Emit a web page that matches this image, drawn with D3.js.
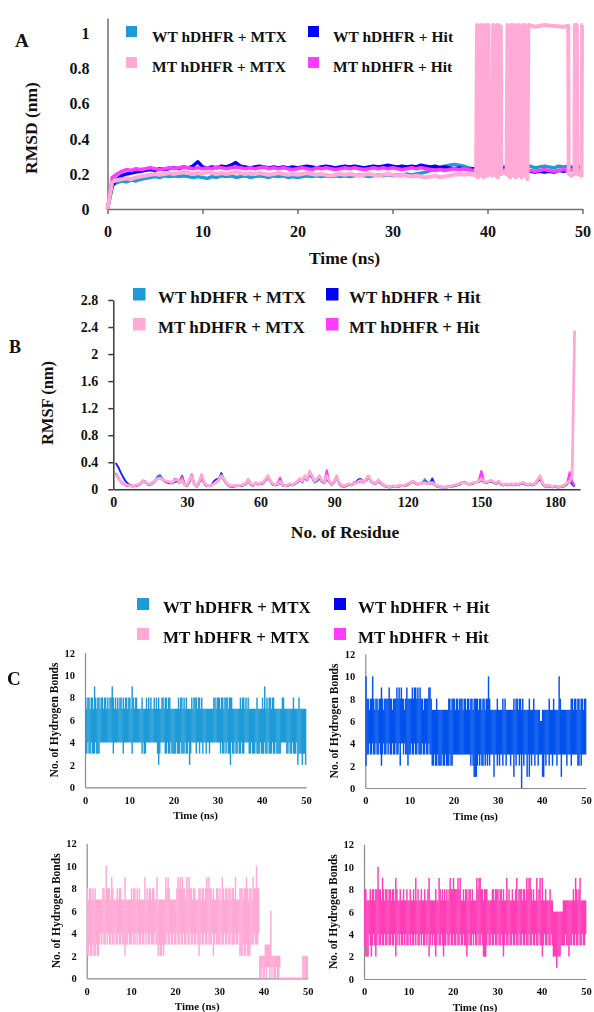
<!DOCTYPE html>
<html>
<head>
<meta charset="utf-8">
<script src="https://d3js.org/d3.v7.min.js"></script>
<style>
  body { margin: 0; background: #fff; }
  svg text { font-family: "Liberation Serif", "Times New Roman", serif; font-weight: bold; }
</style>
</head>
<body>
<svg id="fig" width="594" height="1012" xmlns="http://www.w3.org/2000/svg"></svg>
<script>
// ---------- series definitions ----------
const seriesNames = ["WT hDHFR + MTX", "WT hDHFR + Hit", "MT hDHFR + MTX", "MT hDHFR + Hit"];
const seriesColors = ["#1e9bd7", "#0000ff", "#ffabd5", "#ff3cff"];
const rmsfColors = ["#2aa0dc", "#2424f2", "#ffa8d4", "#ff3cf2"];
const hbondColors = ["#1e9bd7", "#0552ec", "#ffa9d5", "#ff3db6"];

// ---------- A: RMSD (nm) vs time (ns), sampled every 0.5 ns ----------
const rmsdTime = d3.range(0, 50.25, 0.5);
const rmsdWtMtx = [0,0.14,0.15,0.16,0.155,0.165,0.16,0.17,0.175,0.18,
  0.185,0.18,0.19,0.185,0.19,0.185,0.19,0.185,0.18,0.185,
  0.18,0.175,0.185,0.18,0.19,0.185,0.19,0.18,0.185,0.19,
  0.18,0.185,0.19,0.185,0.18,0.19,0.185,0.19,0.18,0.185,
  0.18,0.185,0.19,0.185,0.19,0.185,0.19,0.185,0.19,0.185,
  0.19,0.185,0.19,0.195,0.19,0.185,0.19,0.195,0.19,0.195,
  0.19,0.195,0.19,0.2,0.195,0.2,0.205,0.21,0.22,0.23,
  0.24,0.245,0.25,0.255,0.25,0.245,0.235,0.23,0.225,0.23,
  0.235,0.24,0.235,0.245,0.24,0.235,0.24,0.245,0.24,0.245,
  0.235,0.24,0.245,0.24,0.235,0.245,0.24,0.245,0.24,0.235,
  0.24];
const rmsdWtHit = [0,0.13,0.17,0.19,0.2,0.205,0.21,0.215,0.22,0.225,
  0.22,0.23,0.225,0.23,0.235,0.23,0.24,0.235,0.245,0.27,
  0.24,0.235,0.24,0.235,0.245,0.24,0.25,0.265,0.245,0.24,
  0.235,0.24,0.245,0.24,0.235,0.24,0.235,0.24,0.235,0.24,
  0.235,0.24,0.245,0.24,0.235,0.24,0.245,0.24,0.235,0.24,
  0.245,0.24,0.245,0.24,0.235,0.24,0.245,0.24,0.245,0.25,
  0.245,0.24,0.245,0.24,0.245,0.24,0.25,0.245,0.24,0.245,
  0.235,0.24,0.235,0.23,0.235,0.23,0.225,0.23,0.235,0.23,
  0.235,0.23,0.225,0.23,0.235,0.23,0.225,0.23,0.22,0.215,
  0.21,0.215,0.21,0.215,0.21,0.22,0.215,0.22,0.23,0.24,
  0.245];
const rmsdMtHit = [0,0.18,0.2,0.215,0.225,0.22,0.23,0.225,0.23,0.235,
  0.23,0.225,0.23,0.235,0.23,0.235,0.24,0.235,0.23,0.235,
  0.23,0.235,0.23,0.24,0.235,0.23,0.235,0.24,0.235,0.23,
  0.235,0.23,0.235,0.24,0.23,0.235,0.23,0.235,0.23,0.225,
  0.23,0.235,0.23,0.225,0.235,0.23,0.235,0.23,0.225,0.23,
  0.235,0.23,0.235,0.23,0.225,0.23,0.235,0.23,0.235,0.23,
  0.235,0.23,0.225,0.23,0.235,0.23,0.235,0.23,0.225,0.22,
  0.225,0.22,0.225,0.23,0.225,0.23,0.225,0.22,0.225,0.22,
  0.225,0.22,0.225,0.22,0.225,0.22,0.215,0.22,0.225,0.22,
  0.215,0.22,0.225,0.22,0.215,0.22,0.225,0.22,0.225,0.22,
  0.225];
// MT + MTX: regular samples up to 38.5 ns, then the rapid flips after 38.8 ns
const rmsdMtMtxEarly = [0,0.155,0.165,0.17,0.175,0.17,0.18,0.185,0.19,0.195,
  0.2,0.195,0.2,0.205,0.2,0.205,0.21,0.205,0.2,0.205,
  0.2,0.21,0.205,0.2,0.205,0.2,0.205,0.21,0.205,0.2,
  0.205,0.2,0.205,0.2,0.195,0.2,0.205,0.2,0.195,0.2,
  0.195,0.2,0.205,0.2,0.195,0.2,0.195,0.19,0.195,0.2,
  0.195,0.2,0.195,0.19,0.195,0.2,0.195,0.19,0.195,0.2,
  0.195,0.19,0.195,0.19,0.185,0.19,0.185,0.18,0.185,0.19,
  0.18,0.185,0.19,0.195,0.2,0.195,0.2,0.195];
const rmsdMtMtxLateTime = [38.8,38.9,39.0,39.1,39.2,39.3,39.4,39.5,39.6,39.7,39.8,39.9,40.0,40.1,40.2,
  40.35,
  40.5,40.6,40.7,40.8,40.9,41.0,41.1,41.2,41.3,41.4,
  41.45,41.7,
  42.0,42.1,42.2,42.3,42.4,42.5,42.6,42.7,42.8,42.9,43.0,43.1,43.2,43.3,43.4,43.5,43.6,43.7,43.8,43.9,44.0,44.1,44.2,44.3,
  45,46,47,48,48.5,48.55,48.8,49.15,49.2,49.4,49.45,49.9,49.95,50];
const rmsdMtMtxLate = [0.19,1.05,0.18,1.04,0.2,1.05,0.19,1.05,0.18,1.04,0.2,1.05,0.19,1.05,0.2,
  0.2,
  0.19,1.05,0.2,1.04,0.19,1.05,0.18,1.05,0.2,1.04,
  0.2,0.21,
  0.2,1.05,0.19,1.04,0.18,1.05,0.2,1.05,0.19,1.04,0.18,1.05,0.2,1.05,0.19,1.04,0.18,1.05,0.2,1.05,0.19,1.04,0.17,1.05,
  1.04,1.05,1.045,1.04,1.045,0.2,0.19,0.2,1.05,1.05,0.2,0.19,1.05,1.05];
const rmsdTicksX = [0, 10, 20, 30, 40, 50];
const rmsdTicksY = [0, 0.2, 0.4, 0.6, 0.8, 1];

// ---------- B: RMSF (nm) per residue ----------
const residues = d3.range(1, 189);
const rmsfWtMtx = [0.22,0.16,0.11,0.08,0.06,0.05,0.05,0.04,0.05,0.06,
  0.08,0.13,0.12,0.08,0.07,0.09,0.13,0.19,0.21,0.16,
  0.12,0.11,0.10,0.09,0.11,0.12,0.09,0.15,0.07,0.05,
  0.12,0.22,0.08,0.04,0.10,0.18,0.09,0.05,0.05,0.06,
  0.09,0.12,0.15,0.21,0.14,0.09,0.05,0.04,0.04,0.05,
  0.05,0.05,0.06,0.08,0.12,0.07,0.05,0.09,0.08,0.08,
  0.09,0.13,0.19,0.12,0.07,0.06,0.07,0.10,0.05,0.05,
  0.05,0.07,0.06,0.08,0.10,0.14,0.10,0.17,0.13,0.22,
  0.17,0.10,0.12,0.16,0.11,0.09,0.17,0.10,0.07,0.10,
  0.17,0.09,0.05,0.04,0.05,0.07,0.06,0.09,0.10,0.13,
  0.14,0.10,0.13,0.17,0.11,0.09,0.08,0.12,0.09,0.06,
  0.04,0.04,0.03,0.04,0.04,0.04,0.05,0.05,0.05,0.07,
  0.09,0.11,0.09,0.08,0.08,0.10,0.15,0.09,0.08,0.09,
  0.06,0.04,0.04,0.03,0.03,0.03,0.04,0.04,0.05,0.06,
  0.07,0.09,0.10,0.08,0.07,0.08,0.09,0.10,0.11,0.13,
  0.11,0.09,0.11,0.12,0.10,0.08,0.11,0.07,0.06,0.07,
  0.06,0.07,0.06,0.07,0.06,0.08,0.09,0.07,0.06,0.07,
  0.06,0.08,0.12,0.15,0.07,0.04,0.05,0.04,0.04,0.04,
  0.03,0.04,0.04,0.05,0.08,0.12,0.07,0.04];
const rmsfWtHit = [0.39,0.33,0.25,0.18,0.12,0.08,0.06,0.05,0.05,0.06,
  0.08,0.12,0.11,0.07,0.07,0.09,0.12,0.17,0.19,0.15,
  0.12,0.10,0.09,0.09,0.11,0.13,0.10,0.20,0.08,0.05,
  0.11,0.19,0.07,0.04,0.10,0.17,0.09,0.05,0.05,0.06,
  0.12,0.15,0.15,0.24,0.15,0.09,0.05,0.04,0.04,0.05,
  0.05,0.05,0.06,0.08,0.13,0.07,0.05,0.09,0.07,0.08,
  0.09,0.13,0.18,0.12,0.07,0.06,0.07,0.10,0.06,0.05,
  0.05,0.07,0.06,0.08,0.11,0.14,0.11,0.18,0.14,0.23,
  0.18,0.11,0.13,0.17,0.12,0.09,0.16,0.11,0.07,0.11,
  0.18,0.09,0.05,0.04,0.05,0.07,0.06,0.10,0.11,0.15,
  0.15,0.11,0.13,0.18,0.12,0.10,0.09,0.13,0.09,0.06,
  0.04,0.03,0.03,0.04,0.04,0.04,0.05,0.05,0.05,0.07,
  0.09,0.11,0.09,0.07,0.08,0.09,0.12,0.10,0.09,0.16,
  0.07,0.04,0.03,0.03,0.03,0.03,0.04,0.04,0.05,0.06,
  0.07,0.09,0.11,0.09,0.07,0.08,0.09,0.10,0.11,0.14,
  0.11,0.09,0.11,0.12,0.10,0.08,0.11,0.07,0.06,0.07,
  0.06,0.07,0.06,0.07,0.06,0.08,0.09,0.07,0.06,0.07,
  0.06,0.08,0.13,0.16,0.07,0.04,0.05,0.04,0.03,0.04,
  0.03,0.03,0.04,0.05,0.08,0.15,0.08,0.04];
const rmsfMtMtx = [0.22,0.17,0.12,0.09,0.07,0.06,0.05,0.05,0.06,0.07,
  0.09,0.12,0.11,0.08,0.08,0.10,0.13,0.16,0.17,0.15,
  0.13,0.12,0.11,0.10,0.13,0.15,0.10,0.14,0.07,0.06,
  0.14,0.20,0.07,0.05,0.12,0.22,0.10,0.06,0.05,0.06,
  0.08,0.11,0.14,0.20,0.16,0.10,0.06,0.05,0.05,0.06,
  0.05,0.06,0.07,0.09,0.15,0.08,0.06,0.10,0.08,0.09,
  0.10,0.15,0.20,0.13,0.08,0.07,0.08,0.12,0.06,0.05,
  0.06,0.08,0.07,0.09,0.12,0.16,0.12,0.20,0.15,0.27,
  0.20,0.12,0.15,0.20,0.13,0.10,0.20,0.12,0.08,0.12,
  0.20,0.10,0.06,0.05,0.06,0.08,0.07,0.10,0.09,0.12,
  0.13,0.10,0.15,0.20,0.12,0.10,0.09,0.14,0.10,0.07,
  0.05,0.04,0.04,0.05,0.04,0.05,0.06,0.05,0.06,0.08,
  0.10,0.12,0.10,0.08,0.08,0.09,0.10,0.08,0.09,0.10,
  0.07,0.05,0.04,0.04,0.03,0.04,0.04,0.05,0.06,0.07,
  0.08,0.10,0.10,0.09,0.07,0.09,0.10,0.10,0.12,0.15,
  0.12,0.10,0.12,0.13,0.11,0.09,0.12,0.08,0.07,0.08,
  0.07,0.08,0.07,0.08,0.07,0.09,0.10,0.08,0.07,0.08,
  0.07,0.09,0.15,0.20,0.08,0.05,0.06,0.05,0.04,0.05,
  0.04,0.04,0.05,0.06,0.10,0.12,0.20,2.35];
const rmsfMtHit = [0.24,0.18,0.12,0.08,0.06,0.05,0.05,0.05,0.05,0.06,
  0.08,0.11,0.10,0.08,0.07,0.09,0.12,0.16,0.17,0.14,
  0.12,0.11,0.10,0.10,0.15,0.15,0.11,0.19,0.07,0.06,
  0.13,0.22,0.07,0.05,0.11,0.20,0.09,0.05,0.05,0.06,
  0.08,0.10,0.13,0.19,0.15,0.09,0.06,0.05,0.05,0.05,
  0.05,0.06,0.07,0.08,0.14,0.08,0.06,0.09,0.08,0.08,
  0.09,0.14,0.20,0.12,0.08,0.07,0.09,0.17,0.07,0.05,
  0.06,0.08,0.07,0.09,0.11,0.15,0.11,0.19,0.14,0.25,
  0.19,0.11,0.14,0.20,0.12,0.10,0.28,0.11,0.07,0.11,
  0.19,0.09,0.05,0.05,0.06,0.08,0.07,0.09,0.09,0.11,
  0.12,0.10,0.14,0.19,0.11,0.09,0.09,0.13,0.09,0.06,
  0.05,0.04,0.04,0.05,0.04,0.05,0.06,0.05,0.06,0.08,
  0.10,0.12,0.10,0.08,0.08,0.09,0.10,0.08,0.09,0.10,
  0.07,0.05,0.04,0.04,0.03,0.04,0.04,0.05,0.06,0.07,
  0.08,0.10,0.10,0.09,0.07,0.09,0.10,0.10,0.13,0.27,
  0.12,0.10,0.12,0.13,0.11,0.09,0.12,0.08,0.07,0.08,
  0.07,0.08,0.07,0.08,0.07,0.09,0.10,0.08,0.07,0.08,
  0.07,0.09,0.14,0.18,0.08,0.05,0.06,0.05,0.04,0.05,
  0.04,0.04,0.05,0.06,0.10,0.25,0.12,0.05];
const rmsfTicksX = [0, 30, 60, 90, 120, 150, 180];
const rmsfTicksY = [0, 0.4, 0.8, 1.2, 1.6, 2, 2.4, 2.8];

// ---------- C: hydrogen bond count, min / max within each 0.25 ns window ----------
const hbStep = 0.25;
const hbTime = d3.range(0, 50, hbStep);
const hbWtMtxLo = [3,3,4,3,3,4,3,3,3,4,3,3,3,4,4,4,4,4,4,4, 4,4,4,4,4,3,4,4,4,4,4,4,4,4,3,4,4,4,4,4,
  4,4,3,4,4,4,4,4,4,4,4,3,4,3,3,4,4,4,4,4, 4,4,4,4,4,3,2,3,4,4,4,4,3,3,4,3,3,4,3,3,
  3,3,4,3,3,3,4,3,3,3,4,3,3,4,2,3,4,4,4,4, 3,4,4,3,4,4,3,4,4,3,4,4,3,4,4,4,4,4,4,4,
  4,4,3,4,3,3,4,3,4,3,3,2,4,3,3,4,3,3,4,3, 3,4,3,3,4,4,4,4,3,3,4,3,3,3,4,3,3,3,4,3,
  3,3,4,3,3,4,3,3,3,4,3,3,4,3,3,3,3,4,4,4, 4,4,3,3,4,3,3,4,3,3,3,4,2,3,3,3,2,3,3,2];
const hbWtMtxHi = [8,7,8,8,7,8,8,7,9,8,7,8,8,7,8,8,7,8,8,7, 8,7,8,8,9,8,7,8,7,8,7,8,8,7,8,7,8,8,7,8,
  8,7,9,8,7,8,8,7,7,7,7,8,7,7,7,8,7,8,7,8, 7,7,8,7,8,7,8,7,7,8,8,7,8,8,7,8,8,7,7,7,
  7,7,7,7,8,7,8,8,7,8,7,8,7,7,7,7,8,7,8,8, 8,7,8,8,7,8,7,7,7,7,7,7,7,7,7,7,8,8,7,8,
  8,8,7,8,8,7,8,8,8,7,8,8,8,7,7,7,7,7,7,7, 8,7,8,8,7,8,7,8,7,7,7,7,7,7,7,8,7,7,7,7,
  8,7,9,7,8,7,8,8,7,8,8,7,7,7,7,7,7,7,8,8, 7,7,7,7,7,7,7,7,8,7,7,7,7,8,7,7,7,7,7,7];
const hbWtHitLo = [2,3,3,4,3,3,4,3,3,4,3,3,4,3,2,3,4,3,3,4, 3,4,3,3,4,3,3,4,3,3,4,2,4,4,3,4,3,3,2,3,
  3,4,3,3,4,3,3,4,3,3,3,4,3,3,4,3,3,4,3,3, 2,2,3,2,2,3,2,2,2,3,2,2,3,2,2,2,3,2,2,3,
  3,3,3,3,3,3,3,3,3,3,3,3,3,3,3,2,3,2,1,1, 1,2,3,2,3,2,2,3,2,3,2,3,2,3,3,3,1,3,3,2,
  3,2,3,3,2,3,3,2,3,3,3,2,3,3,1,3,2,3,3,2, 3,0,3,2,3,3,1,3,1,3,2,3,3,2,3,3,2,3,3,3,
  1,1,3,2,3,3,2,3,3,2,3,3,3,2,3,3,3,1,3,3, 3,3,2,3,3,3,2,3,3,3,3,3,2,2,3,2,3,3,3,3];
const hbWtHitHi = [10,8,8,7,8,8,10,8,7,8,8,7,8,8,9,8,7,8,8,8, 8,9,8,8,7,8,8,8,9,8,9,8,9,8,8,7,8,9,8,8,
  8,8,9,8,9,9,8,9,8,9,8,8,7,8,8,8,8,9,9,8, 7,7,7,7,8,7,7,7,7,7,7,7,7,7,7,8,8,7,8,8,
  8,7,8,8,7,8,8,8,7,8,8,7,8,8,7,8,8,7,8,8, 8,8,7,8,8,7,8,8,7,8,8,10,8,7,7,7,7,7,7,8,
  7,7,7,7,8,7,8,7,7,7,7,7,7,7,8,7,8,8,7,8, 8,7,8,7,7,7,7,7,8,7,7,7,8,7,7,7,7,7,6,6,
  7,7,7,7,7,7,8,7,7,7,8,7,7,7,7,10,8,7,7,7, 7,7,7,7,7,7,8,8,7,8,8,7,8,8,7,8,8,7,8,8];
const hbMtMtxLo = [2,2,3,2,2,3,2,2,3,2,2,3,4,3,4,3,3,4,3,4, 3,3,4,3,3,4,3,3,4,3,3,4,3,3,2,3,3,4,3,3,
  3,4,3,3,4,3,4,3,3,4,3,3,4,3,4,3,3,4,3,3, 3,4,3,3,2,3,2,2,3,2,3,3,4,3,3,4,3,3,4,3,
  3,4,3,3,4,3,3,4,3,3,4,3,3,4,3,3,4,3,3,4, 3,2,3,4,3,3,4,3,3,4,3,3,3,4,2,3,4,3,3,3,
  3,4,3,3,4,3,3,4,3,3,4,3,3,3,4,3,3,4,2,2, 2,3,2,2,3,2,2,2,3,3,3,4,3,3,3,4,0,0,1,0,
  0,1,0,1,1,0,1,0,1,0,0,1,0,0,1,0,0,0,0,0, 0,0,0,0,0,0,0,0,0,0,0,0,0,0,0,0,0,0,0,0];
const hbMtMtxHi = [8,7,8,8,7,8,7,8,7,7,7,7,7,7,8,8,7,10,8,8, 8,7,9,8,7,7,7,8,7,8,8,7,7,7,9,7,7,7,7,7,
  8,7,8,8,7,8,7,8,7,7,7,7,9,7,8,7,8,8,7,8, 8,7,7,9,7,7,7,7,7,7,7,9,8,9,8,7,7,7,7,7,
  7,8,9,8,9,8,9,8,8,7,9,8,9,8,8,7,8,8,7,7, 7,8,8,7,8,8,7,8,9,8,9,8,8,7,8,7,7,8,8,7,
  8,7,9,8,7,8,8,7,8,8,7,8,8,7,9,7,7,7,8,8, 8,7,8,8,9,8,7,8,8,7,9,8,8,10,8,8,2,2,2,2,
  2,3,3,3,3,3,6,2,2,2,2,2,2,2,2,0,0,0,0,0, 0,0,0,0,0,0,0,0,0,0,0,0,0,0,0,2,2,2,2,2];
const hbMtHitLo = [3,2,2,2,4,3,2,3,4,3,2,3,4,3,3,4,3,3,4,3, 3,4,3,3,4,3,3,4,2,3,4,3,4,3,3,4,3,4,3,3,
  4,3,4,3,3,4,3,4,3,3,4,3,4,3,3,4,3,4,2,3, 4,3,4,3,2,3,4,3,3,4,3,2,3,3,4,3,3,4,3,3,
  4,3,3,4,3,3,4,3,3,4,3,3,2,3,4,3,3,4,3,4, 3,3,4,3,3,4,3,2,2,2,3,4,3,3,4,3,3,4,3,3,
  4,3,3,4,3,2,3,4,3,3,4,3,3,4,3,3,4,3,3,4, 3,3,4,3,3,4,3,3,4,3,3,4,3,3,4,3,3,4,3,3,
  2,3,4,3,3,4,3,3,4,3,2,2,2,1,2,2,2,3,3,3, 3,4,3,3,2,3,3,4,3,3,4,3,3,4,3,3,4,3,3,4];
const hbMtHitHi = [8,8,7,7,7,8,7,8,8,7,8,8,10,8,8,7,9,8,7,8, 8,7,8,8,7,8,8,7,9,8,7,7,8,7,7,8,7,7,8,7,
  7,8,7,7,8,7,9,7,8,7,7,8,7,7,8,7,7,8,9,7, 7,7,7,7,8,7,7,9,8,7,8,7,8,7,8,7,8,9,8,8,
  9,8,8,8,9,8,9,7,7,8,7,8,8,7,8,8,7,8,7,7, 7,9,8,9,9,8,8,7,8,8,8,7,7,7,7,8,8,7,8,8,
  8,7,8,8,7,8,7,7,9,7,8,7,7,8,7,7,8,9,7,8, 8,8,7,8,8,7,9,8,9,9,8,7,8,7,7,9,7,8,9,7,
  9,7,7,8,7,7,7,8,7,7,6,6,6,6,6,6,6,6,6,7, 7,7,7,7,7,7,7,7,8,7,9,8,7,8,9,7,7,7,7,7];
const hbTicksX = [0, 10, 20, 30, 40, 50];
const hbTicksY = [0, 2, 4, 6, 8, 10, 12];

// ---------- drawing helpers ----------
const svg = d3.select("#fig");
const ink = "#111";

svg.append("defs").append("filter").attr("id", "soft")
  .attr("x", "-5%").attr("y", "-5%").attr("width", "110%").attr("height", "110%")
  .append("feGaussianBlur").attr("stdDeviation", 0.45);

function styleAxis(g, fontSize, lineColor, lineWidth) {
  g.attr("font-size", fontSize).attr("color", ink);
  g.selectAll("path.domain").attr("stroke", lineColor).attr("stroke-width", lineWidth);
  g.selectAll(".tick line").attr("stroke", lineColor).attr("stroke-width", lineWidth);
  g.selectAll("text").attr("fill", ink);
}

function drawLegend(g, cfg) {
  const col = [0, 1, 0, 1], row = [0, 0, 1, 1];
  const item = g.selectAll("g.legend-item").data(seriesNames).join("g").attr("class", "legend-item");
  item.append("rect")
    .attr("x", (d, i) => cfg.sqX[col[i]]).attr("y", (d, i) => cfg.sqY[row[i]])
    .attr("width", cfg.sq).attr("height", cfg.sq)
    .attr("fill", (d, i) => seriesColors[i]);
  item.append("text")
    .attr("x", (d, i) => cfg.textX[col[i]]).attr("y", (d, i) => cfg.base[row[i]])
    .attr("font-size", cfg.fs).attr("fill", ink)
    .text(d => d);
}

function rotatedTitle(g, x, y, size, text) {
  g.append("text").attr("transform", `translate(${x},${y}) rotate(-90)`)
    .attr("text-anchor", "middle").attr("font-size", size).attr("fill", ink).text(text);
}

// ---------- Panel A ----------
{
  const g = svg.append("g");
  const x = d3.scaleLinear().domain([0, 50]).range([107.5, 582.5]);
  const y = d3.scaleLinear().domain([0, 1.09]).range([209, 18]);

  const ax = g.append("g").attr("transform", "translate(0,209)")
    .call(d3.axisBottom(x).tickValues(rmsdTicksX).tickSize(5).tickSizeOuter(0).tickPadding(12).tickFormat(String));
  styleAxis(ax, 16, "#6f6f6f", 1.5);
  const ay = g.append("g").attr("transform", "translate(107.5,0)")
    .call(d3.axisLeft(y).tickValues(rmsdTicksY).tickSize(0).tickSizeOuter(0).tickPadding(18).tickFormat(String));
  styleAxis(ay, 16, "#6f6f6f", 1.5);

  const line = d3.line().x(d => x(d[0])).y(d => y(d[1]));
  const mtMtxTime = rmsdTime.slice(0, rmsdMtMtxEarly.length).concat(rmsdMtMtxLateTime);
  const mtMtxVals = rmsdMtMtxEarly.concat(rmsdMtMtxLate);
  const drawn = [
    { t: rmsdTime, v: rmsdWtMtx, c: seriesColors[0], w: 3.4 },
    { t: rmsdTime, v: rmsdWtHit, c: seriesColors[1], w: 3.4 },
    { t: rmsdTime, v: rmsdMtHit, c: seriesColors[3], w: 3.6 },
    { t: mtMtxTime, v: mtMtxVals, c: seriesColors[2], w: 4 }
  ];
  g.append("g").selectAll("path").data(drawn).join("path")
    .attr("d", s => line(s.t.map((t, i) => [t, s.v[i]])))
    .attr("fill", "none").attr("stroke", s => s.c).attr("stroke-width", s => s.w)
    .attr("stroke-linejoin", "round");

  g.append("text").attr("x", 344.5).attr("y", 264).attr("text-anchor", "middle")
    .attr("font-size", 17.5).attr("fill", ink).text("Time (ns)");
  rotatedTitle(g, 37, 128, 17.5, "RMSD (nm)");
  g.append("text").attr("x", 15).attr("y", 47).attr("font-size", 19).attr("fill", ink).text("A");
  drawLegend(g, { sqX: [126, 308], sqY: [26, 57], sq: 11, textX: [152, 333], base: [42, 72], fs: 15.5 });
}

// ---------- Panel B ----------
{
  const g = svg.append("g");
  const x = d3.scaleLinear().domain([0, 190.2]).range([113.3, 580]);
  const y = d3.scaleLinear().domain([0, 2.8]).range([489.3, 300]);

  const ax = g.append("g").attr("transform", "translate(0,489.3)")
    .call(d3.axisBottom(x).tickValues(rmsfTicksX).tickSize(0).tickSizeOuter(0).tickPadding(8).tickFormat(String));
  styleAxis(ax, 14, "#3a3a3a", 1.5);
  const ay = g.append("g").attr("transform", "translate(113.3,0)")
    .call(d3.axisLeft(y).tickValues(rmsfTicksY).tickSize(5).tickSizeOuter(0).tickPadding(10).tickFormat(String));
  styleAxis(ay, 14, "#3a3a3a", 1.5);

  const line = d3.line().x(d => x(d[0])).y(d => y(d[1]));
  const drawn = [
    { v: rmsfWtMtx, c: rmsfColors[0], w: 2 },
    { v: rmsfWtHit, c: rmsfColors[1], w: 2 },
    { v: rmsfMtHit, c: rmsfColors[3], w: 2.2 },
    { v: rmsfMtMtx, c: rmsfColors[2], w: 2.8 }
  ];
  g.append("g").selectAll("path").data(drawn).join("path")
    .attr("d", s => line(residues.map((r, i) => [r, s.v[i]])))
    .attr("fill", "none").attr("stroke", s => s.c).attr("stroke-width", s => s.w)
    .attr("stroke-linejoin", "round");

  g.append("text").attr("x", 345).attr("y", 538).attr("text-anchor", "middle")
    .attr("font-size", 17.5).attr("fill", ink).text("No. of Residue");
  rotatedTitle(g, 53, 403, 16.5, "RMSF (nm)");
  g.append("text").attr("x", 9).attr("y", 353).attr("font-size", 18).attr("fill", ink).text("B");
  drawLegend(g, { sqX: [133, 326], sqY: [288, 318], sq: 12.5, textX: [158, 349], base: [303, 333], fs: 17 });
}

// ---------- Panel C ----------
{
  const g = svg.append("g").attr("filter", "url(#soft)");
  g.append("text").attr("x", 7).attr("y", 685).attr("font-size", 19).attr("fill", ink).text("C");
  drawLegend(g, { sqX: [137, 334], sqY: [598, 628], sq: 12, textX: [163, 358], base: [613, 643], fs: 17 });

  const plots = [
    { lo: hbWtMtxLo, hi: hbWtMtxHi, c: hbondColors[0], x0: 85, x1: 306, y0: 787.3, y1: 652.7 },
    { lo: hbWtHitLo, hi: hbWtHitHi, c: hbondColors[1], x0: 365.3, x1: 586, y0: 788, y1: 654 },
    { lo: hbMtMtxLo, hi: hbMtMtxHi, c: hbondColors[2], x0: 86.7, x1: 307.7, y0: 978.3, y1: 843.3 },
    { lo: hbMtHitLo, hi: hbMtHitHi, c: hbondColors[3], x0: 364, x1: 586, y0: 979, y1: 844.3 }
  ];

  plots.forEach(p => {
    const sg = g.append("g");
    const x = d3.scaleLinear().domain([0, 50]).range([p.x0, p.x1]);
    const y = d3.scaleLinear().domain([0, 12]).range([p.y0, p.y1]);

    const ax = sg.append("g").attr("transform", `translate(0,${p.y0})`)
      .call(d3.axisBottom(x).tickValues(hbTicksX).tickSize(0).tickSizeOuter(0).tickPadding(9).tickFormat(String));
    styleAxis(ax, 10.5, "#8a8a8a", 1.2);
    const ay = sg.append("g").attr("transform", `translate(${p.x0},0)`)
      .call(d3.axisLeft(y).tickValues(hbTicksY).tickSize(0).tickSizeOuter(0).tickPadding(10).tickFormat(String));
    styleAxis(ay, 10.5, "#8a8a8a", 1.2);

    const bw = x(hbStep) - x(0);
    sg.append("g").selectAll("rect").data(hbTime).join("rect")
      .attr("x", d => x(d)).attr("width", bw + 0.35)
      .attr("y", (d, i) => y(p.hi[i]) - (p.hi[i] === p.lo[i] ? 0.8 : 0))
      .attr("height", (d, i) => Math.max(y(p.lo[i]) - y(p.hi[i]), 1.6))
      .attr("fill", p.c);

    sg.append("text").attr("x", (p.x0 + p.x1) / 2).attr("y", p.y0 + 32).attr("text-anchor", "middle")
      .attr("font-size", 11).attr("fill", ink).text("Time (ns)");
    rotatedTitle(sg, p.x0 - 27, (p.y0 + p.y1) / 2, 11.5, "No. of  Hydrogen Bonds");
  });
}
</script>
</body>
</html>
